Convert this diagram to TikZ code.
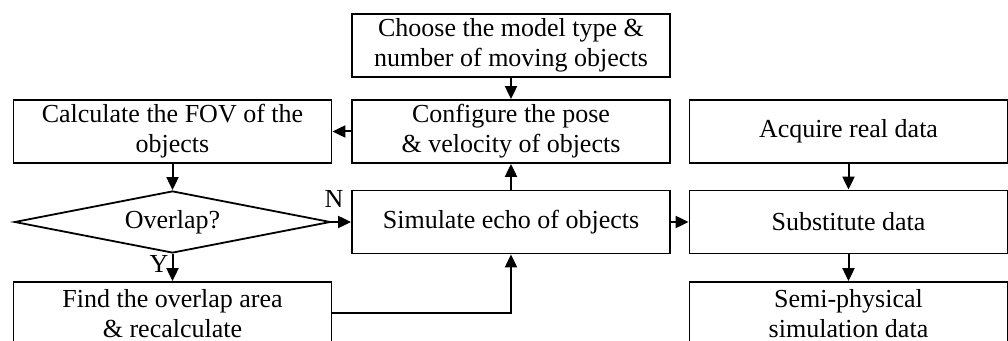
\documentclass[tikz,border=0pt]{standalone}
\usepackage{fontspec}
\setmainfont{Liberation Serif}
\usetikzlibrary{arrows.meta,shapes.geometric}

\begin{document}
\begin{tikzpicture}[
                    x=0.5pt, y=-0.5pt,
                    box style/.style={
                        rectangle,
                        draw=black,
                        line width=0.9pt,
                        align=center,
                        font=\fontsize{13}{15}\selectfont,
                        inner sep=1pt,
                        minimum width=159pt,
                        minimum height=31.5pt
                    },
                    decision style/.style={
                        diamond,
                        aspect=5,
                        draw=black,
                        line width=0.9pt,
                        font=\fontsize{13}{15}\selectfont,
                        inner sep=1pt,
                        minimum width=158pt,
                        minimum height=31pt
                    },
                    label style/.style={font=\fontsize{13}{15}\selectfont, inner sep=0pt},
                    flow/.style={draw, line width=1pt, -{Triangle[length=6.5pt,width=6pt]}}
                ]
    \useasboundingbox (0,0) rectangle (1008,341);
    % boxes
    \node[box style] (choose) at (511,45.5) {Choose the model type \&\\number of moving objects};
    \node[box style] (configure) at (511,131.5) {Configure the pose\\\& velocity of objects};
    \node[box style] (calc) at (172.5,131.5) {Calculate the FOV of the\\objects};
    \node[box style] (acquire) at (848.5,131.5) {Acquire real data};
    \node[decision style] (overlap) at (172.5,222) {Overlap?};
    \node[box style] (simulate) at (511,222) {Simulate echo of objects};
    \node[box style] (substitute) at (848.5,222) {Substitute data};
    \node[box style] (find) at (172.5,313.5) {Find the overlap area\\\& recalculate};
    \node[box style] (semi) at (848.5,313.5) {Semi-physical\\simulation data};
    \node[label style] (no) at (334,199) {N};
    \node[label style] (yes) at (159,264) {Y};
    % arrows
    \draw[flow] (choose) -- (configure);
    \draw[flow] (configure) -- (calc);
    \draw[flow] (calc) -- (overlap);
    \draw[flow] (overlap) -- (simulate);
    \draw[flow] (overlap) -- (find);
    \draw[flow] (simulate) -- (configure);
    \draw[flow] (find.east) -| (simulate.south);
    \draw[flow] (simulate) -- (substitute);
    \draw[flow] (acquire) -- (substitute);
    \draw[flow] (substitute) -- (semi);
\end{tikzpicture}
\end{document}
